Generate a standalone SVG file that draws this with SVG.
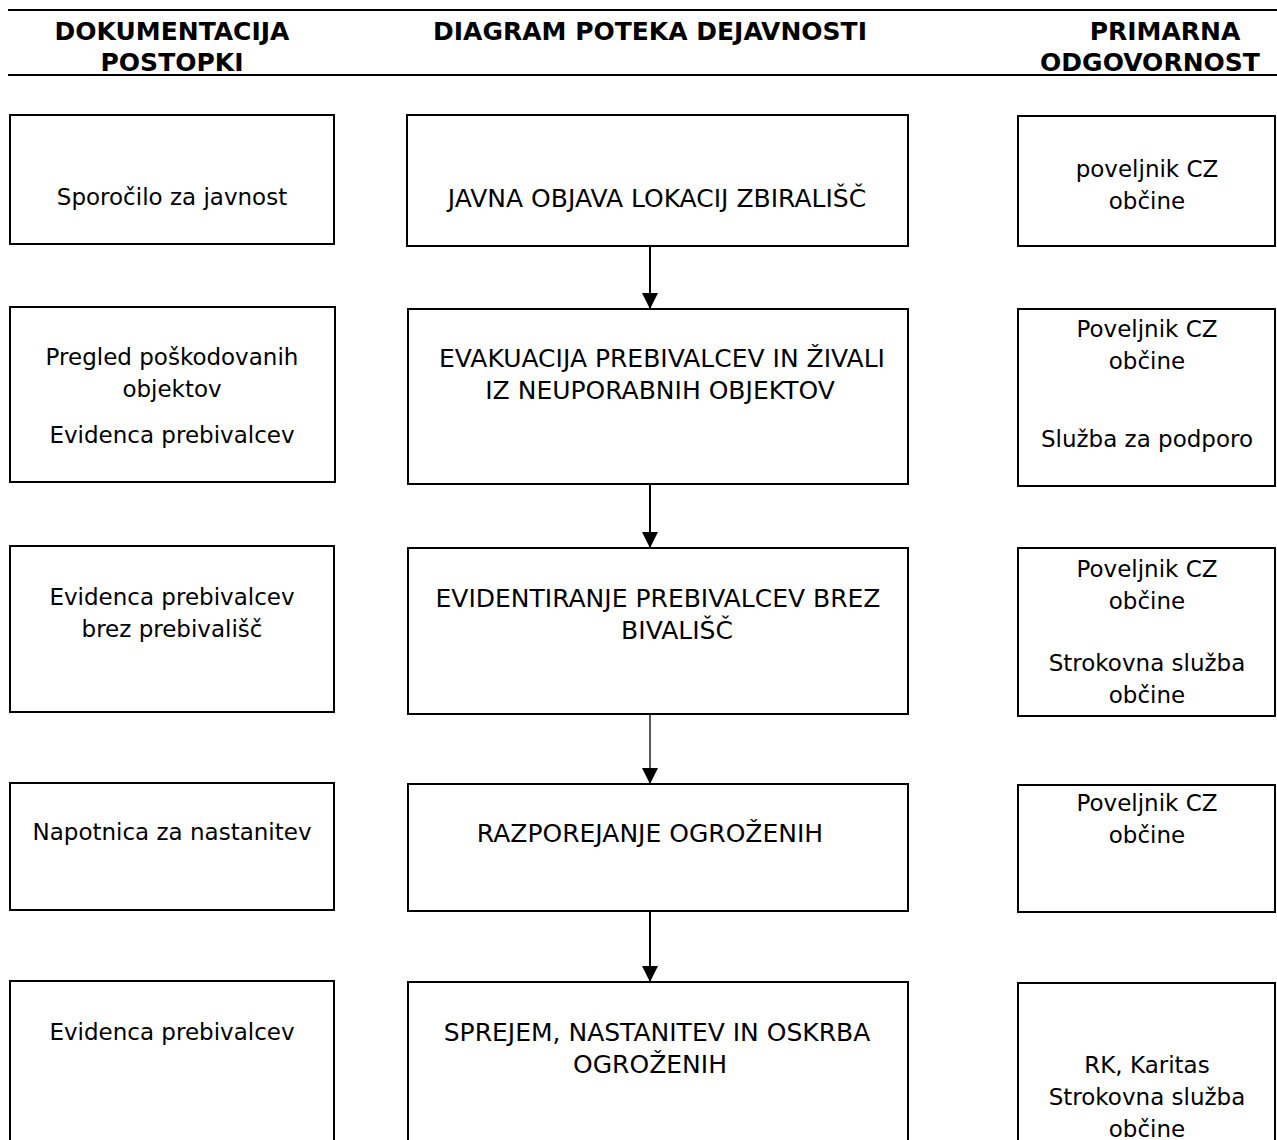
<svg xmlns="http://www.w3.org/2000/svg" width="1277" height="1140" viewBox="0 0 1277 1140">
<style>
.bg{fill:#fff}
.box{fill:#fff;stroke:#000;stroke-width:2}
.hl{stroke:#000;stroke-width:2}
.h{font-family:"DejaVu Sans","Liberation Sans",sans-serif;font-weight:bold;font-size:25px;text-anchor:middle;fill:#000}
.t{font-family:"DejaVu Sans","Liberation Sans",sans-serif;font-size:23px;text-anchor:middle;fill:#000}
.u{font-family:"DejaVu Sans","Liberation Sans",sans-serif;font-size:25px;text-anchor:middle;fill:#000}
.c{stroke:#000;stroke-width:2;fill:none}
</style>
<defs>
<marker id="arr" viewBox="0 0 16 16" refX="16" refY="8" markerWidth="16" markerHeight="16" markerUnits="userSpaceOnUse" orient="auto">
<path d="M0,0 L16,8 L0,16 Z" fill="#000"/>
</marker>
</defs>
<rect class="bg" x="0" y="0" width="1277" height="1140"/>
<g id="header">
<line class="hl" x1="8" y1="10" x2="1277" y2="10"/>
<line class="hl" x1="8" y1="75" x2="1277" y2="75"/>
<text class="h" x="172" y="40">DOKUMENTACIJA</text>
<text class="h" x="172" y="71">POSTOPKI</text>
<text class="h" x="650" y="40">DIAGRAM POTEKA DEJAVNOSTI</text>
<text class="h" x="1165" y="40">PRIMARNA</text>
<text class="h" x="1150" y="71">ODGOVORNOST</text>
</g>
<g id="connectors">
<line class="c" x1="650" y1="246" x2="650" y2="309" marker-end="url(#arr)"/>
<line class="c" x1="650" y1="484" x2="650" y2="548" marker-end="url(#arr)"/>
<line class="c" x1="650" y1="714" x2="650" y2="784" marker-end="url(#arr)" style="stroke-width:1.3"/>
<line class="c" x1="650" y1="911" x2="650" y2="982" marker-end="url(#arr)"/>
</g>
<g id="doc1"><rect class="box" x="10" y="115" width="324" height="129"/>
<text class="t" x="172" y="205">Sporočilo za javnost</text></g>
<g id="act1"><rect class="box" x="407" y="115" width="501" height="131"/>
<text class="u" x="657" y="207">JAVNA OBJAVA LOKACIJ ZBIRALIŠČ</text></g>
<g id="resp1"><rect class="box" x="1018" y="116" width="257" height="130"/>
<text class="t" x="1147" y="177">poveljnik CZ</text>
<text class="t" x="1147" y="209">občine</text></g>

<g id="doc2"><rect class="box" x="10" y="307" width="325" height="175"/>
<text class="t" x="172" y="365">Pregled poškodovanih</text>
<text class="t" x="172" y="397">objektov</text>
<text class="t" x="172" y="443">Evidenca prebivalcev</text></g>
<g id="act2"><rect class="box" x="408" y="309" width="500" height="175"/>
<text class="u" x="662" y="367">EVAKUACIJA PREBIVALCEV IN ŽIVALI</text>
<text class="u" x="660" y="399">IZ NEUPORABNIH OBJEKTOV</text></g>
<g id="resp2"><rect class="box" x="1018" y="309" width="257" height="177"/>
<text class="t" x="1147" y="337">Poveljnik CZ</text>
<text class="t" x="1147" y="369">občine</text>
<text class="t" x="1147" y="447">Služba za podporo</text></g>

<g id="doc3"><rect class="box" x="10" y="546" width="324" height="166"/>
<text class="t" x="172" y="605">Evidenca prebivalcev</text>
<text class="t" x="172" y="637">brez prebivališč</text></g>
<g id="act3"><rect class="box" x="408" y="548" width="500" height="166"/>
<text class="u" x="658" y="607">EVIDENTIRANJE PREBIVALCEV BREZ</text>
<text class="u" x="677" y="639">BIVALIŠČ</text></g>
<g id="resp3"><rect class="box" x="1018" y="548" width="257" height="168"/>
<text class="t" x="1147" y="577">Poveljnik CZ</text>
<text class="t" x="1147" y="609">občine</text>
<text class="t" x="1147" y="671">Strokovna služba</text>
<text class="t" x="1147" y="703">občine</text></g>

<g id="doc4"><rect class="box" x="10" y="783" width="324" height="127"/>
<text class="t" x="172" y="840">Napotnica za nastanitev</text></g>
<g id="act4"><rect class="box" x="408" y="784" width="500" height="127"/>
<text class="u" x="650" y="842">RAZPOREJANJE OGROŽENIH</text></g>
<g id="resp4"><rect class="box" x="1018" y="785" width="257" height="127"/>
<text class="t" x="1147" y="811">Poveljnik CZ</text>
<text class="t" x="1147" y="843">občine</text></g>

<g id="doc5"><rect class="box" x="10" y="981" width="324" height="170"/>
<text class="t" x="172" y="1040">Evidenca prebivalcev</text></g>
<g id="act5"><rect class="box" x="408" y="982" width="500" height="170"/>
<text class="u" x="657" y="1041">SPREJEM, NASTANITEV IN OSKRBA</text>
<text class="u" x="650" y="1073">OGROŽENIH</text></g>
<g id="resp5"><rect class="box" x="1018" y="983" width="257" height="170"/>
<text class="t" x="1147" y="1073">RK, Karitas</text>
<text class="t" x="1147" y="1105">Strokovna služba</text>
<text class="t" x="1147" y="1137">občine</text></g>
</svg>
